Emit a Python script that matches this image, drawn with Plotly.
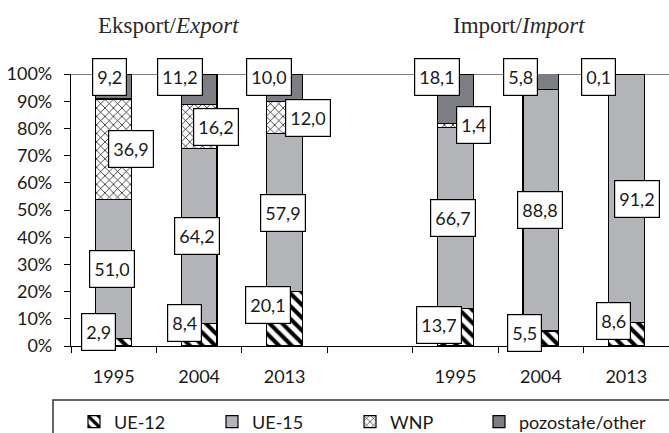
import plotly.graph_objects as go

# ---- data ----
tick_labels = ["1995", "2004", "2013", "", "1995", "2004", "2013"]
ue12 = [2.9, 8.4, 20.1, None, 13.7, 5.5, 8.6]
ue15 = [51.0, 64.2, 57.9, None, 66.7, 88.8, 91.2]
wnp = [36.9, 16.2, 12.0, None, 1.4, 0.0, 0.0]
other = [9.2, 11.2, 10.0, None, 18.1, 5.8, 0.1]
series_names = ["UE-12", "UE-15", "WNP", "pozostałe/other"]
y_ticks = list(range(0, 101, 10))

# ---- label placement (pixel offsets, style only) ----
ue12_dx = [-15, -15, -17, None, -16, -16, -13]
ue12_dy = [10, 12, 14, None, 2, 6, 13]
ue15_dx = [-2, -2, -2, None, -2, -1, 11]
wnp_dx = [17, 17, 23, None, 18, None, None]
other_dx = [-4, -19, -16, None, -18, -20, -28]
legend_px = [74, 212, 350, 479]

W, H = 669, 433
ML, MR, MT, MB = 71, 0, 74, 87
PW, PH = W - ML - MR, H - MT - MB

xs = list(range(len(tick_labels)))
bounds = [i - 0.5 for i in range(len(tick_labels) + 1)]
FONT = "Lato"
TXT = "#1a1a1a"

fig = go.Figure()
styles = [
    dict(color="white", pattern=dict(shape="\\", fgcolor="black", bgcolor="white", size=9, solidity=0.45, fillmode="replace")),
    dict(color="#b3b4b7"),
    dict(color="white", pattern=dict(shape="x", fgcolor="black", bgcolor="white", size=6, solidity=0.22, fillmode="replace")),
    dict(color="#7d7e83"),
]
legend_keys = ["legend", "legend2", "legend3", "legend4"]
for name, vals, st, lk in zip(series_names, [ue12, ue15, wnp, other], styles, legend_keys):
    fig.add_trace(go.Bar(
        x=xs, y=vals, name=name, width=0.42, legend=lk,
        marker=dict(line=dict(color="black", width=1.2), **st),
    ))
# invisible trace on overlay axis for category boundary ticks
fig.add_trace(go.Scatter(x=[bounds[0], bounds[-1]], y=[None, None], xaxis="x2", showlegend=False,
                         hoverinfo="skip", mode="lines"))

def fmt(v):
    return f"{v:.1f}".replace(".", ",")

ann_style = dict(showarrow=False, bgcolor="white", bordercolor="black", borderwidth=1.2,
                 borderpad=4, font=dict(family=FONT, size=18, color=TXT), height=28)

for i in xs:
    if ue12[i] is None:
        continue
    base = 0.0
    fig.add_annotation(x=i, y=ue12[i] / 2, text=fmt(ue12[i]), xshift=ue12_dx[i], yshift=ue12_dy[i], **ann_style)
    base += ue12[i]
    fig.add_annotation(x=i, y=base + ue15[i] / 2, text=fmt(ue15[i]), xshift=ue15_dx[i], **ann_style)
    base += ue15[i]
    if wnp[i] > 0:
        fig.add_annotation(x=i, y=base + wnp[i] / 2, text=fmt(wnp[i]), xshift=wnp_dx[i], **ann_style)
    base += wnp[i]
    fig.add_annotation(x=i, y=100, text=fmt(other[i]), xshift=other_dx[i], yshift=-3, **ann_style)

# group titles
for txt, cx in [("Eksport/<i>Export</i>", 168), ("Import/<i>Import</i>", 519)]:
    fig.add_annotation(xref="paper", yref="paper", x=(cx - ML) / PW, y=1.0, yshift=MT - 25,
                       xanchor="center", yanchor="middle", text=txt, showarrow=False,
                       font=dict(family="Liberation Serif", size=23, color="#2a2a2a"))

# top line at 100%
fig.add_shape(type="line", xref="paper", yref="y", x0=0, x1=1, y0=100, y1=100,
              line=dict(color="black", width=1.2), layer="below")
# legend frame (cut by the page edge)
fig.add_shape(type="rect", xref="paper", yref="paper", x0=(53 - ML) / PW, x1=1.2,
              y0=-0.45, y1=-(400 - MT - PH) / PH, line=dict(color="#333", width=1.5))

leg_common = dict(orientation="h", xanchor="left", yanchor="middle", y=-(422 - MT - PH) / PH,
                  font=dict(family=FONT, size=18, color=TXT), bgcolor="rgba(0,0,0,0)", itemwidth=30)
legends = {lk: dict(x=(px - ML) / PW, **leg_common) for lk, px in zip(legend_keys, legend_px)}

fig.update_layout(
    width=W, height=H,
    margin=dict(l=ML, r=MR, t=MT, b=MB, autoexpand=False),
    barmode="stack",
    plot_bgcolor="white", paper_bgcolor="white",
    font=dict(family=FONT, size=18, color=TXT),
    showlegend=True,
    **legends,
    xaxis=dict(range=[-0.5, 6.5], tickvals=xs, ticktext=tick_labels, ticks="",
               showline=True, linecolor="black", linewidth=1.2, showgrid=False, zeroline=False,
               ticklabelstandoff=14),
    xaxis2=dict(range=[-0.5, 6.5], overlaying="x", side="bottom", anchor="y", tickvals=bounds,
                ticks="outside", ticklen=6, tickcolor="black", tickwidth=1.2, showticklabels=False,
                showgrid=False, zeroline=False, showline=False),
    yaxis=dict(range=[0, 100], tickvals=y_ticks, ticktext=[f"{v}%" for v in y_ticks], ticks="outside",
               ticklen=6, tickcolor="black", tickwidth=1.2, showline=True, linecolor="black", linewidth=1.2,
               showgrid=False, zeroline=False, ticklabelstandoff=8),
)

fig.write_html("out.html", config={"displayModeBar": False},
               post_script="document.body.style.margin='0';document.body.style.overflow='hidden';")
